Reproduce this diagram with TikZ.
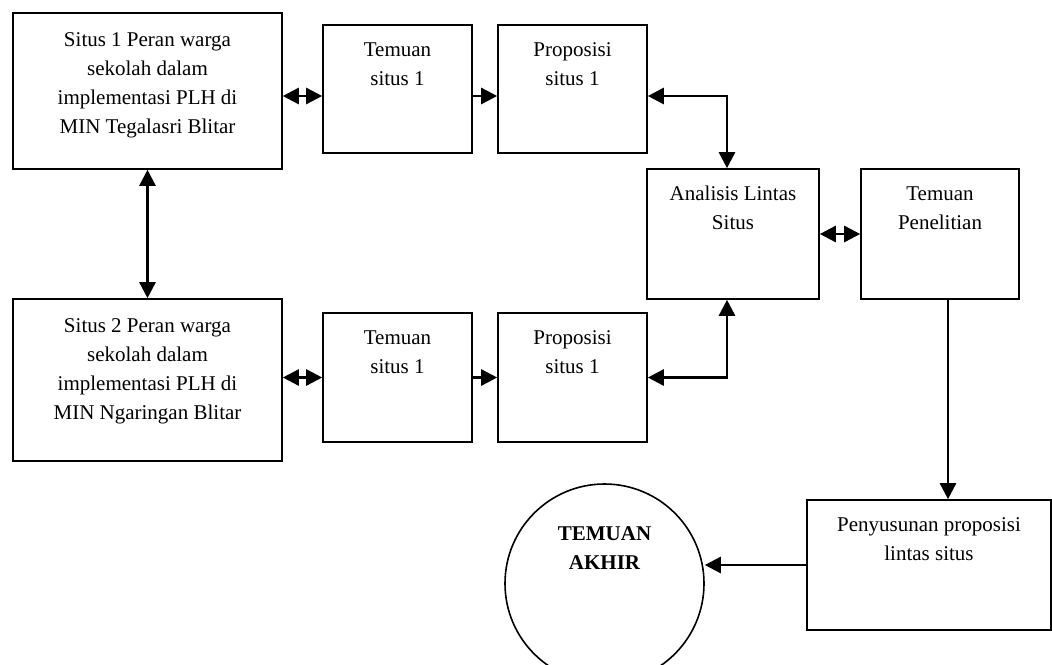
\documentclass[tikz,border=0pt]{standalone}
\usepackage{fontspec}
\setmainfont{Liberation Serif}
\usetikzlibrary{arrows.meta}

\begin{document}
\begin{tikzpicture}[x=1pt,y=-1pt,
            kotak/.style={draw=black,line width=1.6pt,inner sep=0pt},
            tulisan/.style={anchor=north,align=center,inner sep=0pt,font=\fontsize{21}{29}\selectfont},
            panah/.style={line width=2.6pt,-{Triangle[length=16pt,width=16pt]}},
            panahdua/.style={line width=2.6pt,{Triangle[length=16pt,width=16pt]}-{Triangle[length=16pt,width=16pt]}}]
            \useasboundingbox (0,0) rectangle (1052,664);

            \node[kotak,minimum width=269pt,minimum height=156pt] at (147.5,91) (S1) {};
            \node[tulisan] at ([yshift=-20pt]S1.north) (S1t) {Situs 1 Peran warga\\sekolah dalam\\implementasi PLH di\\MIN Tegalasri Blitar};
            \node[kotak,minimum width=149pt,minimum height=128pt] at (397.5,89) (T1) {};
            \node[tulisan] at ([yshift=-18pt]T1.north) (T1t) {Temuan\\situs 1};
            \node[kotak,minimum width=149pt,minimum height=128pt] at (572.5,89) (P1) {};
            \node[tulisan] at ([yshift=-18pt]P1.north) (P1t) {Proposisi\\situs 1};

            \node[kotak,minimum width=269pt,minimum height=162pt] at (147.5,380) (S2) {};
            \node[tulisan] at ([yshift=-20pt]S2.north) (S2t) {Situs 2 Peran warga\\sekolah dalam\\implementasi PLH di\\MIN Ngaringan Blitar};
            \node[kotak,minimum width=149pt,minimum height=129pt] at (397.5,377.5) (T2) {};
            \node[tulisan] at ([yshift=-18pt]T2.north) (T2t) {Temuan\\situs 1};
            \node[kotak,minimum width=149pt,minimum height=129pt] at (572.5,377.5) (P2) {};
            \node[tulisan] at ([yshift=-18pt]P2.north) (P2t) {Proposisi\\situs 1};

            \node[kotak,minimum width=172pt,minimum height=130pt] at (733,234) (AL) {};
            \node[tulisan] at ([yshift=-18pt]AL.north) (ALt) {Analisis Lintas\\Situs};
            \node[kotak,minimum width=158pt,minimum height=130pt] at (940,234) (TP) {};
            \node[tulisan] at ([yshift=-18pt]TP.north) (TPt) {Temuan\\Penelitian};
            \node[kotak,minimum width=244pt,minimum height=130pt] at (929,565) (PS) {};
            \node[tulisan] at ([yshift=-18pt]PS.north) (PSt) {Penyusunan proposisi\\lintas situs};

            \node[draw=black,line width=1.6pt,circle,minimum size=199pt] at (604.5,583.5) (TA) {};
            \node[tulisan,font=\fontsize{21}{29}\selectfont\bfseries] at ([yshift=-43pt]TA.north) (TAt) {TEMUAN\\AKHIR};

            \draw[panahdua] ([yshift=-5pt]S1.east) -- ([yshift=-5pt]S1.east -| T1.west);
            \draw[panah] ([yshift=-7pt]T1.east) -- ([yshift=-7pt]P1.west);
            \draw[panahdua] ([yshift=-7pt]P1.east) -| ([xshift=-6pt]AL.north);
            \draw[panahdua] (S1.south) -- (S2.north);
            \draw[panahdua] (T2.west -| S2.east) -- (T2.west);
            \draw[panah] (T2.east) -- (P2.west);
            \draw[panahdua] (P2.east) -| ([xshift=-6pt]AL.south);
            \draw[panahdua] (AL.east) -- (TP.west);
            \draw[panah] ([xshift=8pt]TP.south) -- ([xshift=8pt]TP.south |- PS.north);
            \draw[panah] (PS.west) -- (PS.west -| TA.east);
        \end{tikzpicture}
\end{document}
